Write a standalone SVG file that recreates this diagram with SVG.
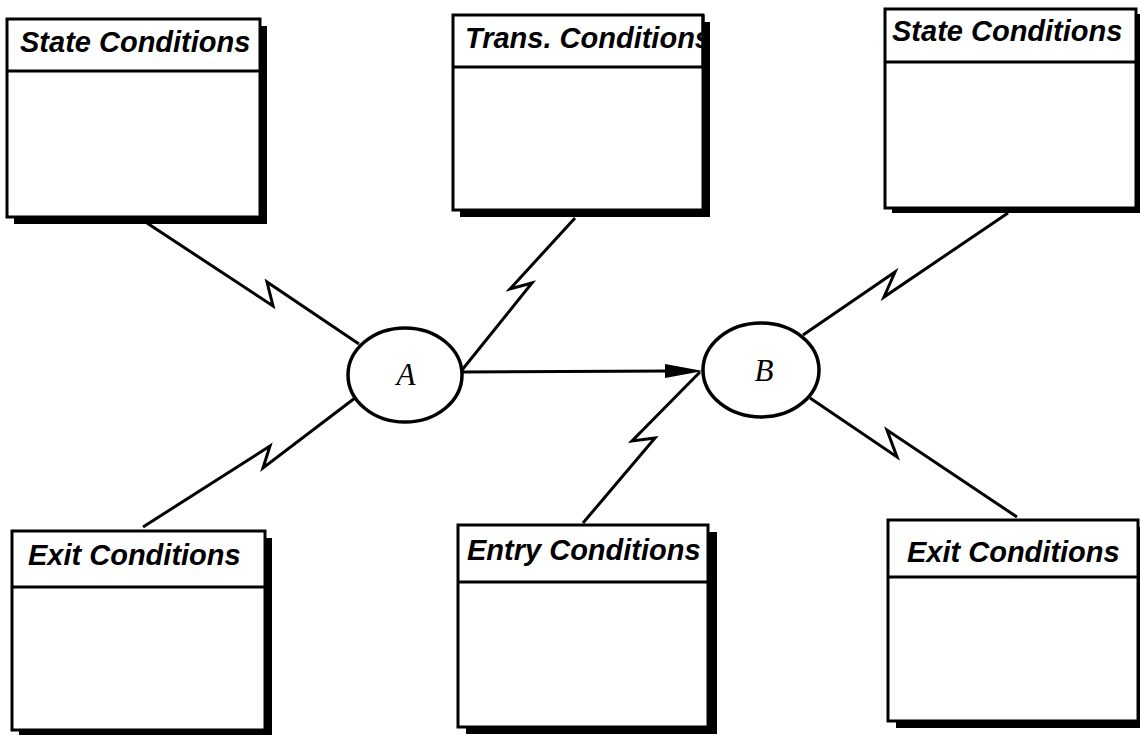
<svg xmlns="http://www.w3.org/2000/svg" width="1140" height="735" viewBox="0 0 1140 735">
<style>
.shadow{fill:#000}
.box{fill:#fff;stroke:#000;stroke-width:3}
.hdr{stroke:#000;stroke-width:3}
.title{font-family:"Liberation Sans",Arial,sans-serif;font-weight:bold;font-style:italic;font-size:29px;fill:#000}
.state{fill:#fff;stroke:#000;stroke-width:3.5}
.lbl{font-family:"Liberation Serif","Times New Roman",serif;font-style:italic;font-size:31px;fill:#000}
.conn{fill:none;stroke:#000;stroke-width:3;stroke-linejoin:miter}
</style>
<defs>
<clipPath id="clipTM"><rect x="453" y="15" width="250" height="52"/></clipPath>
</defs>
<rect width="1140" height="735" fill="#fff"/>
<g id="connectors">
<path class="conn" d="M147,223 L273,306 L267,282 L359,344"/>
<path class="conn" d="M575,218 L510,289 L532,283 L462,370"/>
<path class="conn" d="M355,398 L263,468 L270,446 L143,527"/>
<path class="conn" d="M1008,213 L884,297 L895,272 L803,335"/>
<path class="conn" d="M810,398 L897,457 L887,430 L1017,517"/>
<path class="conn" d="M700,372 L632,441 L655,438 L583,523"/>
<line class="conn" x1="463" y1="372" x2="670" y2="371"/>
<polygon points="665,364 703,371 665,378" fill="#000"/>
</g>
<g id="stateA">
<ellipse class="state" cx="405" cy="375" rx="57" ry="47"/>
<text class="lbl" x="406" y="385" text-anchor="middle">A</text>
</g>
<g id="stateB">
<ellipse class="state" cx="761" cy="370" rx="58" ry="47"/>
<text class="lbl" x="764" y="381" text-anchor="middle">B</text>
</g>
<g id="box-state-left">
<rect class="shadow" x="14" y="26" width="253" height="198"/>
<rect class="box" x="7" y="19" width="253" height="198"/>
<line class="hdr" x1="7" y1="71" x2="260" y2="71"/>
<text class="title" x="20" y="52">State Conditions</text>
</g>
<g id="box-trans">
<rect class="shadow" x="460" y="22" width="250" height="195"/>
<rect class="box" x="453" y="15" width="250" height="195"/>
<line class="hdr" x1="453" y1="67" x2="703" y2="67"/>
<text class="title" x="465" y="48" clip-path="url(#clipTM)">Trans. Conditions</text>
<line class="hdr" x1="703" y1="15" x2="703" y2="67"/>
</g>
<g id="box-state-right">
<rect class="shadow" x="892" y="14" width="251" height="199"/>
<rect class="box" x="885" y="9" width="251" height="199"/>
<line class="hdr" x1="885" y1="62" x2="1136" y2="62"/>
<text class="title" x="892" y="41">State Conditions</text>
</g>
<g id="box-exit-left">
<rect class="shadow" x="19" y="538" width="253" height="199"/>
<rect class="box" x="12" y="531" width="253" height="199"/>
<line class="hdr" x1="12" y1="587" x2="265" y2="587"/>
<text class="title" x="28" y="565">Exit Conditions</text>
</g>
<g id="box-entry">
<rect class="shadow" x="466" y="532" width="251" height="202"/>
<rect class="box" x="458" y="525" width="250" height="202"/>
<line class="hdr" x1="458" y1="582" x2="708" y2="582"/>
<text class="title" x="467" y="560">Entry Conditions</text>
</g>
<g id="box-exit-right">
<rect class="shadow" x="896" y="527" width="250" height="201"/>
<rect class="box" x="888" y="520" width="250" height="201"/>
<line class="hdr" x1="888" y1="577" x2="1138" y2="577"/>
<text class="title" x="907" y="562">Exit Conditions</text>
</g>
</svg>
